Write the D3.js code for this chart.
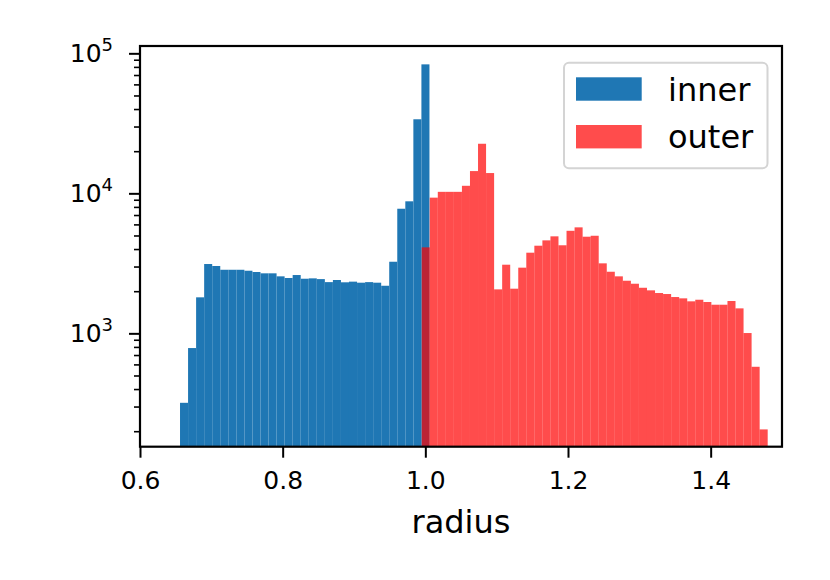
<!DOCTYPE html>
<html>
<head>
<meta charset="utf-8">
<script src="https://cdn.jsdelivr.net/npm/d3@7"></script>
<style>
  body { margin: 0; background: #fff; }
  text { font-family: "DejaVu Sans", sans-serif; fill: #000; }
</style>
</head>
<body>
<div id="chart"></div>
<script>
// histogram bins (same width for both series)
var binWidth = 0.01128;
var innerStart = 0.6561;
var outerStart = 0.9949;

var innerCounts = [319, 785, 1808, 3127, 3027, 2845, 2845, 2845, 2800, 2742,
                   2683, 2683, 2553, 2485, 2609, 2455, 2470, 2440, 2322, 2404,
                   2315, 2340, 2300, 2322, 2300, 2187, 3246, 7762, 8770, 33800,
                   83400];

var outerCounts = [4113, 9315, 10250, 10250, 10250, 11320, 14420, 22600, 13960, 2061,
                   3092, 2084, 2945, 3767, 4226, 4614, 4930, 4256, 5400, 5715,
                   4900, 4977, 3162, 2754, 2553, 2375, 2261, 2116, 2028, 1941,
                   1909, 1817, 1778, 1693, 1738, 1674, 1601, 1601, 1702, 1508,
                   1005, 577, 206];

var xTicks = [0.6, 0.8, 1.0, 1.2, 1.4];
var yMajor = [1e3, 1e4, 1e5];
var yMinor = [200, 300, 400, 500, 600, 700, 800, 900,
              2000, 3000, 4000, 5000, 6000, 7000, 8000, 9000,
              20000, 30000, 40000, 50000, 60000, 70000, 80000, 90000];

var series = [
  { name: "inner", start: innerStart, counts: innerCounts, color: "#1f77b4", opacity: 1 },
  { name: "outer", start: outerStart, counts: outerCounts, color: "#ff0000", opacity: 0.7 }
];

var svgWidth = 830, svgHeight = 580;
var plotLeft = 140, plotRight = 782, plotTop = 46, plotBottom = 446.7;

var svg = d3.select("#chart").append("svg")
            .attr("width", svgWidth)
            .attr("height", svgHeight);

var x = d3.scaleLinear().domain([0.6, 1.5]).range([plotLeft, plotRight]);
var y = d3.scaleLog().domain([155, 112800]).range([plotBottom, plotTop]);

svg.append("clipPath").attr("id", "plotclip")
   .append("rect")
   .attr("x", plotLeft).attr("y", plotTop)
   .attr("width", plotRight - plotLeft).attr("height", plotBottom - plotTop);

var plot = svg.append("g").attr("clip-path", "url(#plotclip)");

series.forEach(function (s) {
  var bins = s.counts.map(function (c, i) {
    return { x0: s.start + i * binWidth, x1: s.start + (i + 1) * binWidth, count: c };
  });
  plot.append("g").selectAll("rect")
      .data(bins)
      .enter()
      .append("rect")
      .attr("x", function (d) { return x(d.x0); })
      .attr("width", function (d) { return x(d.x1) - x(d.x0); })
      .attr("y", function (d) { return y(d.count); })
      .attr("height", function (d) { return plotBottom - y(d.count); })
      .style("fill", s.color)
      .style("fill-opacity", s.opacity);
});

// x axis
var xAxis = svg.append("g")
               .attr("transform", "translate(0," + plotBottom + ")")
               .call(d3.axisBottom(x).tickValues(xTicks).tickSize(11)
                       .tickFormat(d3.format(".1f")));
xAxis.select(".domain").remove();
xAxis.selectAll(".tick line").attr("stroke", "#000").attr("stroke-width", 2);
xAxis.selectAll(".tick text")
     .attr("y", 42.5).attr("dy", 0)
     .style("font-size", "25px")
     .style("font-family", "DejaVu Sans");

// y axis minor ticks
var yMinorAxis = svg.append("g")
                    .attr("transform", "translate(" + plotLeft + ",0)")
                    .call(d3.axisLeft(y).tickValues(yMinor).tickSize(6).tickFormat(""));
yMinorAxis.select(".domain").remove();
yMinorAxis.selectAll(".tick line").attr("stroke", "#000").attr("stroke-width", 1.6);

// y axis major ticks with 10^n labels
var yAxis = svg.append("g")
               .attr("transform", "translate(" + plotLeft + ",0)")
               .call(d3.axisLeft(y).tickValues(yMajor).tickSize(11).tickFormat(""));
yAxis.select(".domain").remove();
yAxis.selectAll(".tick line").attr("stroke", "#000").attr("stroke-width", 2);
yAxis.selectAll(".tick text").each(function (d) {
  var t = d3.select(this)
            .attr("x", -27).attr("y", 8).attr("dy", 0)
            .attr("text-anchor", "end")
            .style("font-size", "25px")
            .style("font-family", "DejaVu Sans");
  t.text("10");
  t.append("tspan")
   .attr("dy", -11)
   .style("font-size", "18px")
   .text(Math.round(Math.log10(d)));
});

// frame
svg.append("rect")
   .attr("x", plotLeft).attr("y", plotTop)
   .attr("width", plotRight - plotLeft).attr("height", plotBottom - plotTop)
   .style("fill", "none")
   .style("stroke", "#000")
   .style("stroke-width", 2.2);

// axis label
svg.append("text")
   .attr("x", (plotLeft + plotRight) / 2)
   .attr("y", 533)
   .attr("text-anchor", "middle")
   .style("font-size", "32px")
   .text("radius");

// legend
var legend = svg.append("g");
legend.append("rect")
      .attr("x", 564).attr("y", 62.7)
      .attr("width", 203.5).attr("height", 105.6)
      .attr("rx", 5).attr("ry", 5)
      .style("fill", "#fff").style("fill-opacity", 0.8)
      .style("stroke", "#d4d4d4").style("stroke-width", 2);

var items = legend.selectAll(".item")
                  .data(series)
                  .enter()
                  .append("g")
                  .attr("transform", function (d, i) { return "translate(0," + (i * 47.7) + ")"; });

items.append("rect")
     .attr("x", 576).attr("y", 77.3)
     .attr("width", 65.7).attr("height", 23.4)
     .style("fill", function (d) { return d.color; })
     .style("fill-opacity", function (d) { return d.opacity; });

items.append("text")
     .attr("x", 668).attr("y", 100.7)
     .style("font-size", "32px")
     .text(function (d) { return d.name; });
</script>
</body>
</html>
